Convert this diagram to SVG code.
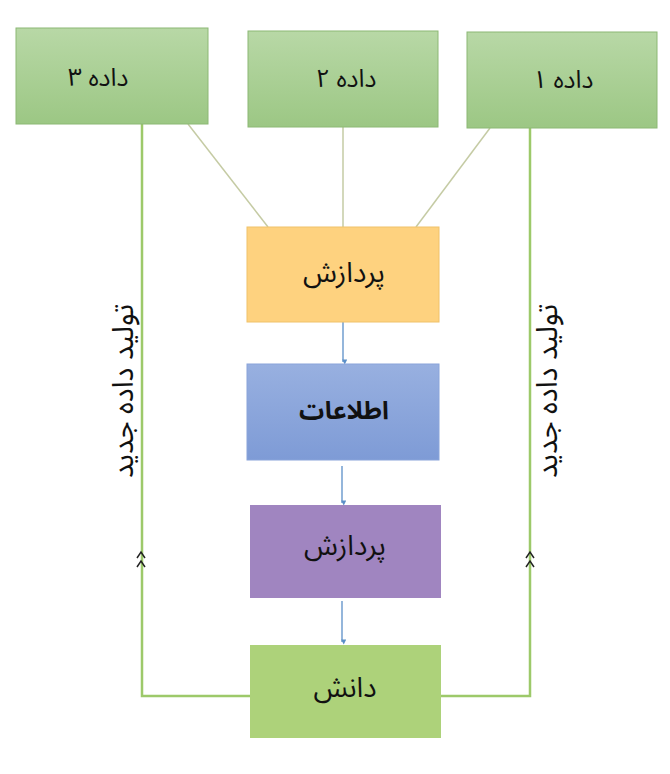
<svg xmlns="http://www.w3.org/2000/svg" width="670" height="774" viewBox="0 0 670 774">
<defs>
<linearGradient id="gGreen" x1="0" y1="0" x2="0" y2="1">
<stop offset="0" stop-color="#b8d8a6"/>
<stop offset="1" stop-color="#9cc784"/>
</linearGradient>
<linearGradient id="gBlue" x1="0" y1="0" x2="0" y2="1">
<stop offset="0" stop-color="#98b0e0"/>
<stop offset="1" stop-color="#7e9bd6"/>
</linearGradient>
<marker id="dot" viewBox="0 0 6 6" refX="3" refY="5" markerWidth="4" markerHeight="4" orient="auto-start-reverse">
<path d="M0,0 L6,3 L0,6 z" fill="#5b8fc8"/>
</marker>
</defs>
<style>
text{font-family:"Noto Sans Arabic","DejaVu Sans",sans-serif;fill:#111;text-anchor:middle;dominant-baseline:central}
.lbl{font-size:25px}
.big{font-size:28px}
.side{font-size:29px}
.top{fill:url(#gGreen);stroke:#8cb875;stroke-width:1}
.thin{stroke:#c5cba4;stroke-width:1.5;fill:none}
.loop{stroke:#9dc96a;stroke-width:2.5;fill:none}
.flow{stroke:#5b8fc8;stroke-width:1.3;fill:none}
.chev{stroke:#222;stroke-width:1.5;fill:none}
</style>
<g id="connectors">
<line class="thin" x1="188" y1="124" x2="268" y2="227"/>
<line class="thin" x1="343" y1="127" x2="343" y2="227"/>
<line class="thin" x1="490" y1="128" x2="416" y2="227"/>
<line class="flow" x1="343" y1="322" x2="343" y2="362" marker-end="url(#dot)"/>
<line class="flow" x1="342" y1="466" x2="342" y2="503" marker-end="url(#dot)"/>
<line class="flow" x1="342" y1="601" x2="342" y2="642" marker-end="url(#dot)"/>
<polyline class="loop" points="250,696 142,696 142,124"/>
<polyline class="loop" points="440,696 530,696 530,128"/>
<polyline class="chev" points="137,558 141,552 145,558"/>
<polyline class="chev" points="137,567 141,561 145,567"/>
<polyline class="chev" points="526,558 530,552 534,558"/>
<polyline class="chev" points="526,567 530,561 534,567"/>
<text class="side" transform="translate(123,391) rotate(-90)">تولید داده جدید</text>
<text class="side" transform="translate(547,391) rotate(-90)">تولید داده جدید</text>
</g>
<g id="data3">
<rect class="top" x="16" y="28" width="192" height="96"/>
<text class="lbl" x="98" y="78">داده ۳</text>
</g>
<g id="data2">
<rect class="top" x="248" y="31" width="190" height="96"/>
<text class="lbl" x="346" y="79">داده ۲</text>
</g>
<g id="data1">
<rect class="top" x="467" y="32" width="190" height="96"/>
<text class="lbl" x="563" y="80">داده ۱</text>
</g>
<g id="process1">
<rect x="247" y="227" width="192" height="95" fill="#fed27f" stroke="#f0c26a" stroke-width="1"/>
<text class="big" x="344" y="273">پردازش</text>
</g>
<g id="information">
<rect x="247" y="364" width="192" height="96" fill="url(#gBlue)" stroke="#8aa4da" stroke-width="1"/>
<text class="lbl" x="344" y="411" font-weight="bold">اطلاعات</text>
</g>
<g id="process2">
<rect x="250" y="505" width="191" height="93" fill="#a085c0"/>
<text class="big" x="345" y="546">پردازش</text>
</g>
<g id="knowledge">
<rect x="250" y="645" width="191" height="93" fill="#add27a"/>
<text class="big" x="345" y="688">دانش</text>
</g>
</svg>
